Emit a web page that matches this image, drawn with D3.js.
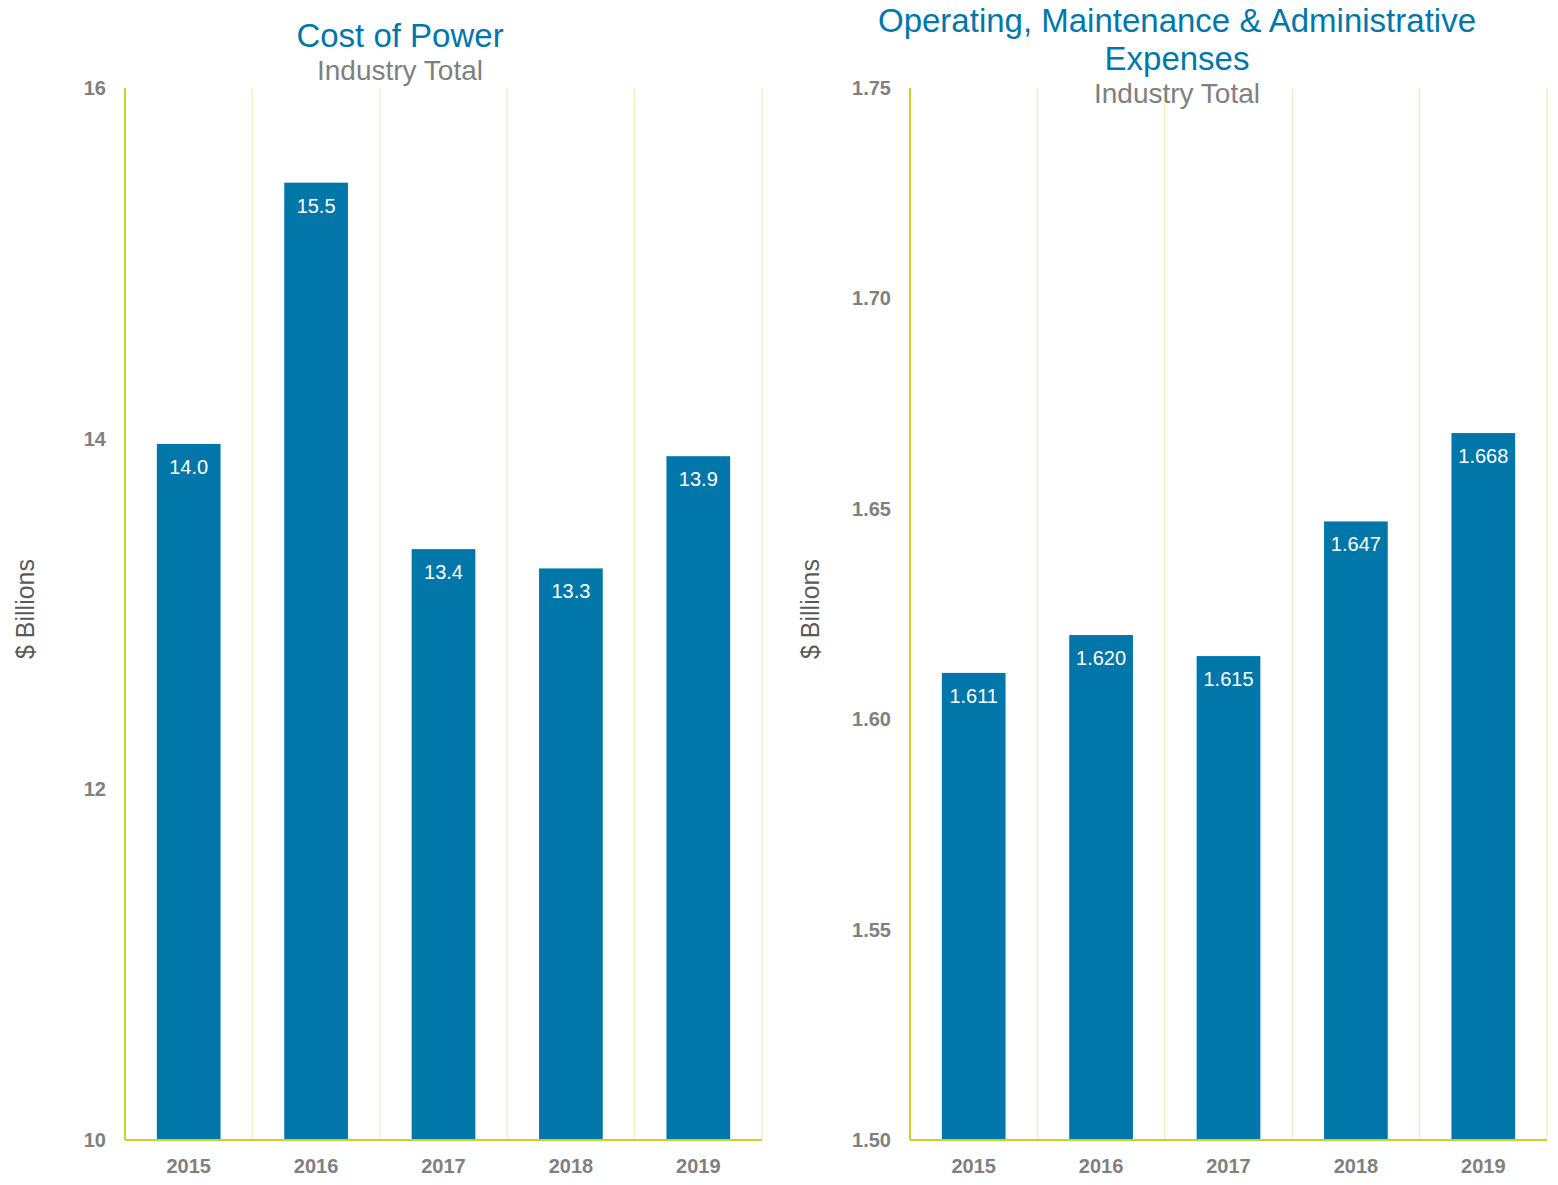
<!DOCTYPE html>
<html lang="en">
<head>
<meta charset="utf-8">
<title>Cost of Power / OM&amp;A</title>
<script src="https://d3js.org/d3.v7.min.js"></script>
<style>
  body { margin: 0; background: #fff; }
  svg text { font-family: "Liberation Sans", Arial, sans-serif; }
</style>
</head>
<body>
<svg></svg>
<script>
// data
var years = ["2015", "2016", "2017", "2018", "2019"];
var costOfPower = [13.97, 15.46, 13.37, 13.26, 13.90];
var omaExpenses = [1.611, 1.620, 1.615, 1.647, 1.668];
var costTicks = [10, 12, 14, 16];
var omaTicks = [1.50, 1.55, 1.60, 1.65, 1.70, 1.75];

var w = 1558, h = 1185;
var svg = d3.select("svg").attr("width", w).attr("height", h);

var BAR = "#0077a8", TITLE = "#0077aa", GREY = "#808080";

function drawChart(opt) {
  var g = svg.append("g");
  var x = d3.scaleBand().domain(years).range([opt.x0, opt.x1]).paddingInner(0.5).paddingOuter(0.25);
  var y = d3.scaleLinear().domain(opt.domain).range([1140, 88]);

  // vertical gridlines between categories
  var step = x.step();
  g.selectAll("line.grid")
    .data(years)
    .enter().append("line")
    .attr("x1", (d) => opt.x0 + step * (years.indexOf(d) + 1))
    .attr("x2", (d) => opt.x0 + step * (years.indexOf(d) + 1))
    .attr("y1", y(opt.domain[1]))
    .attr("y2", y(opt.domain[0]))
    .attr("stroke", "#eef3c4")
    .attr("stroke-width", 1.5);

  g.selectAll("rect")
    .data(opt.values)
    .enter().append("rect")
    .attr("x", (d, i) => x(years[i]))
    .attr("width", x.bandwidth())
    .attr("y", d => y(d))
    .attr("height", d => y(opt.domain[0]) - y(d))
    .attr("fill", BAR);

  g.selectAll("text.val")
    .data(opt.values)
    .enter().append("text")
    .attr("x", (d, i) => x(years[i]) + x.bandwidth() / 2)
    .attr("y", d => y(d) + 30)
    .attr("text-anchor", "middle")
    .attr("fill", "#fff")
    .attr("font-size", 20)
    .text(opt.fmt);

  // axes lines
  g.append("line")
    .attr("x1", opt.x0).attr("x2", opt.x0)
    .attr("y1", y(opt.domain[1])).attr("y2", y(opt.domain[0]))
    .attr("stroke", "#c6d42a").attr("stroke-width", 2);
  g.append("line")
    .attr("x1", opt.x0).attr("x2", opt.x1)
    .attr("y1", y(opt.domain[0])).attr("y2", y(opt.domain[0]))
    .attr("stroke", "#c6d42a").attr("stroke-width", 2);

  // y ticks
  g.selectAll("text.ytick")
    .data(opt.ticks)
    .enter().append("text")
    .attr("x", opt.x0 - 19)
    .attr("y", d => y(d) + 7)
    .attr("text-anchor", "end")
    .attr("fill", GREY)
    .attr("font-weight", "bold")
    .attr("font-size", 20)
    .text(opt.tickFmt);

  // x labels
  g.selectAll("text.xlab")
    .data(years)
    .enter().append("text")
    .attr("x", d => x(d) + x.bandwidth() / 2)
    .attr("y", 1173)
    .attr("text-anchor", "middle")
    .attr("fill", GREY)
    .attr("font-weight", "bold")
    .attr("font-size", 20)
    .text(d => d);

  // y axis title
  g.append("text")
    .attr("transform", "translate(" + (opt.x0 - 91) + ",609) rotate(-90)")
    .attr("text-anchor", "middle")
    .attr("fill", "#595959")
    .attr("font-size", 25)
    .text("$ Billions");

  // titles
  opt.title.forEach(function(t, i) {
    g.append("text")
      .attr("x", opt.titleX)
      .attr("y", opt.titleY + i * 38)
      .attr("text-anchor", "middle")
      .attr("fill", TITLE)
      .attr("font-size", 33)
      .text(t);
  });
  g.append("text")
    .attr("x", opt.titleX)
    .attr("y", opt.titleY + opt.title.length * 38 - 5)
    .attr("text-anchor", "middle")
    .attr("fill", GREY)
    .attr("font-size", 28)
    .text("Industry Total");
}

drawChart({
  x0: 125, x1: 762, domain: [10, 16], values: costOfPower, ticks: costTicks,
  fmt: d3.format(".1f"), tickFmt: d3.format("d"),
  title: ["Cost of Power"], titleX: 400, titleY: 47
});

drawChart({
  x0: 910, x1: 1547, domain: [1.5, 1.75], values: omaExpenses, ticks: omaTicks,
  fmt: d3.format(".3f"), tickFmt: d3.format(".2f"),
  title: ["Operating, Maintenance & Administrative", "Expenses"], titleX: 1177, titleY: 32
});
</script>
</body>
</html>
